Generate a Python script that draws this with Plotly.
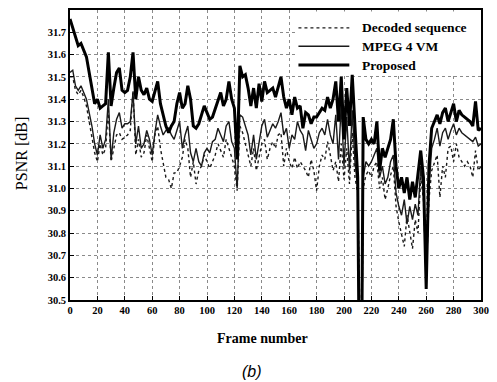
import plotly.graph_objects as go

frames = list(range(0, 210, 2)) + [210, 211, 212, 213] + list(range(214, 301, 2))

proposed = [
    31.76, 31.72, 31.68, 31.64, 31.65, 31.62, 31.59, 31.52, 31.44, 31.38,
    31.40, 31.36, 31.37, 31.38, 31.61, 31.37, 31.45, 31.52, 31.54, 31.44,
    31.43, 31.44, 31.50, 31.61, 31.40, 31.50, 31.44, 31.42, 31.45, 31.40,
    31.39, 31.44, 31.48, 31.38, 31.33, 31.28, 31.25, 31.28, 31.30, 31.38,
    31.43, 31.36, 31.38, 31.46, 31.40, 31.28, 31.27, 31.29, 31.33, 31.37,
    31.34, 31.31, 31.32, 31.36, 31.40, 31.43, 31.37, 31.40, 31.48, 31.40,
    31.36, 31.13, 31.55, 31.50, 31.51, 31.45, 31.37, 31.45, 31.36, 31.47,
    31.39, 31.48, 31.43, 31.44, 31.45, 31.41, 31.46, 31.50, 31.41, 31.36,
    31.40, 31.33, 31.41, 31.36, 31.37, 31.27, 31.34, 31.33, 31.29, 31.32,
    31.32, 31.34, 31.36, 31.35, 31.41, 31.36, 31.40, 31.48, 31.30, 31.50,
    31.22, 31.45, 31.28, 31.51, 31.29,
    31.05, 30.30, 30.30, 30.30,
    31.32, 31.22, 31.20, 31.22, 31.20, 31.30, 31.08, 31.18, 31.14, 31.18,
    31.22, 31.31, 31.10, 31.00, 31.05, 30.98, 31.05, 30.95, 31.03, 30.96,
    31.08, 31.17, 31.05, 30.55, 31.10, 31.27, 31.30, 31.33, 31.29, 31.34,
    31.36, 31.30, 31.34, 31.38, 31.30, 31.35, 31.33, 31.32, 31.31, 31.30,
    31.28, 31.39, 31.26, 31.27,
]

mpeg4_vm = [
    31.52, 31.53, 31.46, 31.44, 31.46, 31.43, 31.40, 31.34, 31.28, 31.20,
    31.15, 31.24, 31.18, 31.22, 31.40, 31.13, 31.25, 31.31, 31.34, 31.27,
    31.29, 31.29, 31.30, 31.43, 31.20, 31.28, 31.18, 31.20, 31.26, 31.22,
    31.15, 31.25, 31.33, 31.28, 31.24, 31.26, 31.27, 31.24, 31.22, 31.26,
    31.30, 31.18, 31.24, 31.28, 31.16, 31.12, 31.18, 31.12, 31.10, 31.16,
    31.18, 31.16, 31.21, 31.22, 31.27, 31.24, 31.21, 31.28, 31.30, 31.21,
    31.18, 31.00, 31.33, 31.32, 31.28, 31.24, 31.15, 31.24, 31.13, 31.20,
    31.28, 31.31, 31.23, 31.26, 31.29, 31.27, 31.30, 31.34, 31.24, 31.27,
    31.18, 31.24, 31.22, 31.30, 31.26, 31.24, 31.17, 31.26, 31.22, 31.18,
    31.20, 31.25, 31.27, 31.24, 31.31, 31.24, 31.20, 31.33, 31.13, 31.38,
    31.10, 31.32, 31.08, 31.35, 31.12,
    31.00, 30.30, 30.30, 30.30,
    31.05, 31.12, 31.10, 31.12, 31.15, 31.18, 31.05, 31.10, 31.02, 31.05,
    31.12, 31.15, 30.98, 30.92, 30.88, 30.95, 30.84, 30.92, 30.86, 30.93,
    30.88, 31.10, 30.98, 30.58, 31.00, 31.18, 31.22, 31.27, 31.19, 31.25,
    31.27, 31.22, 31.26, 31.29, 31.24, 31.27, 31.25, 31.24, 31.23, 31.22,
    31.21, 31.23, 31.19, 31.20,
]

decoded = [
    31.50, 31.50, 31.44, 31.42, 31.44, 31.41, 31.37, 31.30, 31.24, 31.16,
    31.12, 31.20, 31.15, 31.18, 31.35, 31.12, 31.18, 31.24, 31.25, 31.22,
    31.23, 31.24, 31.26, 31.44, 31.15, 31.22, 31.14, 31.16, 31.24, 31.18,
    31.12, 31.24, 31.28, 31.18, 31.12, 31.05, 31.04, 31.00, 31.07, 31.07,
    31.10, 31.14, 31.22, 31.18, 31.05, 31.12, 31.02, 31.08, 31.10, 31.15,
    31.12, 31.09, 31.12, 31.15, 31.20, 31.17, 31.14, 31.22, 31.18, 31.14,
    31.10, 30.99, 31.28, 31.25, 31.20, 31.15, 31.10, 31.18, 31.08, 31.14,
    31.20, 31.22, 31.13, 31.18, 31.21, 31.18, 31.24, 31.25, 31.10, 31.18,
    31.12, 31.09, 31.14, 31.09, 31.12, 31.10, 31.08, 31.05, 31.13, 31.08,
    30.99, 31.10, 31.15, 31.13, 31.21, 31.15, 31.08, 31.12, 31.03, 31.20,
    31.04, 31.18, 31.02, 31.25, 31.05,
    30.98, 30.30, 30.30, 30.30,
    31.00, 31.06, 31.08, 31.05, 31.10, 31.12, 31.00, 31.05, 30.95, 31.00,
    31.06, 31.10, 30.92, 30.85, 30.80, 30.74, 30.88, 30.80, 30.73, 30.86,
    30.80, 31.05, 30.95, 30.60, 30.95, 31.08, 31.12, 31.15, 30.96, 31.10,
    31.05, 31.18, 31.19, 31.12, 31.20, 31.14, 31.12, 31.10, 31.12, 31.10,
    31.05, 31.17, 31.08, 31.10,
]

x_ticks = list(range(0, 301, 20))
y_ticks = [30.5, 30.6, 30.7, 30.8, 30.9, 31.0, 31.1, 31.2, 31.3, 31.4, 31.5, 31.6, 31.7]
y_tick_labels = ["30.5", "30.6", "30.7", "30.8", "30.9", "31.0", "31.1", "31.2",
                 "31.3", "31.4", "31.5", "31.6", "31.7"]

series_names = ["Decoded sequence", "MPEG 4 VM", "Proposed"]

line_styles = [dict(color="#1a1a1a", width=1.4, dash="dot"),
               dict(color="#1a1a1a", width=1.4),
               dict(color="#000000", width=3.0)]

fig = go.Figure()
for name, vals, st in zip(series_names, [decoded, mpeg4_vm, proposed], line_styles):
    fig.add_trace(go.Scatter(x=frames, y=vals, mode="lines", name=name, line=st))

tickfont = dict(family="Liberation Serif", size=10.5, color="black", weight="bold")

fig.update_xaxes(range=[0, 300], tickvals=x_ticks, ticktext=[str(v) for v in x_ticks],
                 showgrid=True, gridcolor="#8a8a8a", griddash="dot", gridwidth=1,
                 showline=True, linecolor="black", linewidth=1.6, mirror=True,
                 ticks="inside", ticklen=4, tickcolor="black", tickfont=tickfont,
                 zeroline=False)
fig.update_yaxes(range=[30.5, 31.8], tickvals=y_ticks, ticktext=y_tick_labels,
                 showgrid=True, gridcolor="#8a8a8a", griddash="dot", gridwidth=1,
                 showline=True, linecolor="black", linewidth=1.6, mirror=True,
                 ticks="inside", ticklen=4, tickcolor="black", tickfont=tickfont,
                 zeroline=False)

# custom legend (white box, long line samples)
def px_x(p):
    return (p - 70) / 412.0

def px_y(p):
    return (300 - p) / 292.0

shapes = [dict(type="rect", xref="paper", yref="paper",
               x0=px_x(297), x1=1.0, y0=px_y(73), y1=px_y(9.5),
               fillcolor="white", line=dict(width=0), layer="above")]
rows = [26, 44.5, 63.5]
annotations = []
for name, st, r in zip(series_names, line_styles, rows):
    shapes.append(dict(type="line", xref="paper", yref="paper",
                       x0=px_x(299), x1=px_x(350), y0=px_y(r), y1=px_y(r),
                       line=st, layer="above"))
    annotations.append(dict(text=name, xref="paper", yref="paper",
                            x=px_x(361), y=px_y(r), xanchor="left", yanchor="middle",
                            showarrow=False,
                            font=dict(family="Liberation Serif", size=13.5, color="black",
                                      weight="bold")))

annotations.append(dict(text="Frame number", xref="paper", yref="paper",
                        x=px_x(263), y=px_y(339), xanchor="center", yanchor="middle",
                        showarrow=False,
                        font=dict(family="Liberation Serif", size=14, color="black",
                                  weight="bold")))
annotations.append(dict(text="PSNR [dB]", xref="paper", yref="paper",
                        x=px_x(21), y=px_y(153), xanchor="center", yanchor="middle",
                        textangle=-90, showarrow=False,
                        font=dict(family="Liberation Serif", size=16, color="black")))
annotations.append(dict(text="<i>(b)</i>", xref="paper", yref="paper",
                        x=px_x(252), y=px_y(372), xanchor="center", yanchor="middle",
                        showarrow=False,
                        font=dict(family="Liberation Sans", size=16, color="black")))

fig.update_layout(width=497, height=382, margin=dict(l=70, r=15, t=8, b=82),
                  paper_bgcolor="white", plot_bgcolor="white", showlegend=False,
                  shapes=shapes, annotations=annotations)

fig.write_html("out.html")
